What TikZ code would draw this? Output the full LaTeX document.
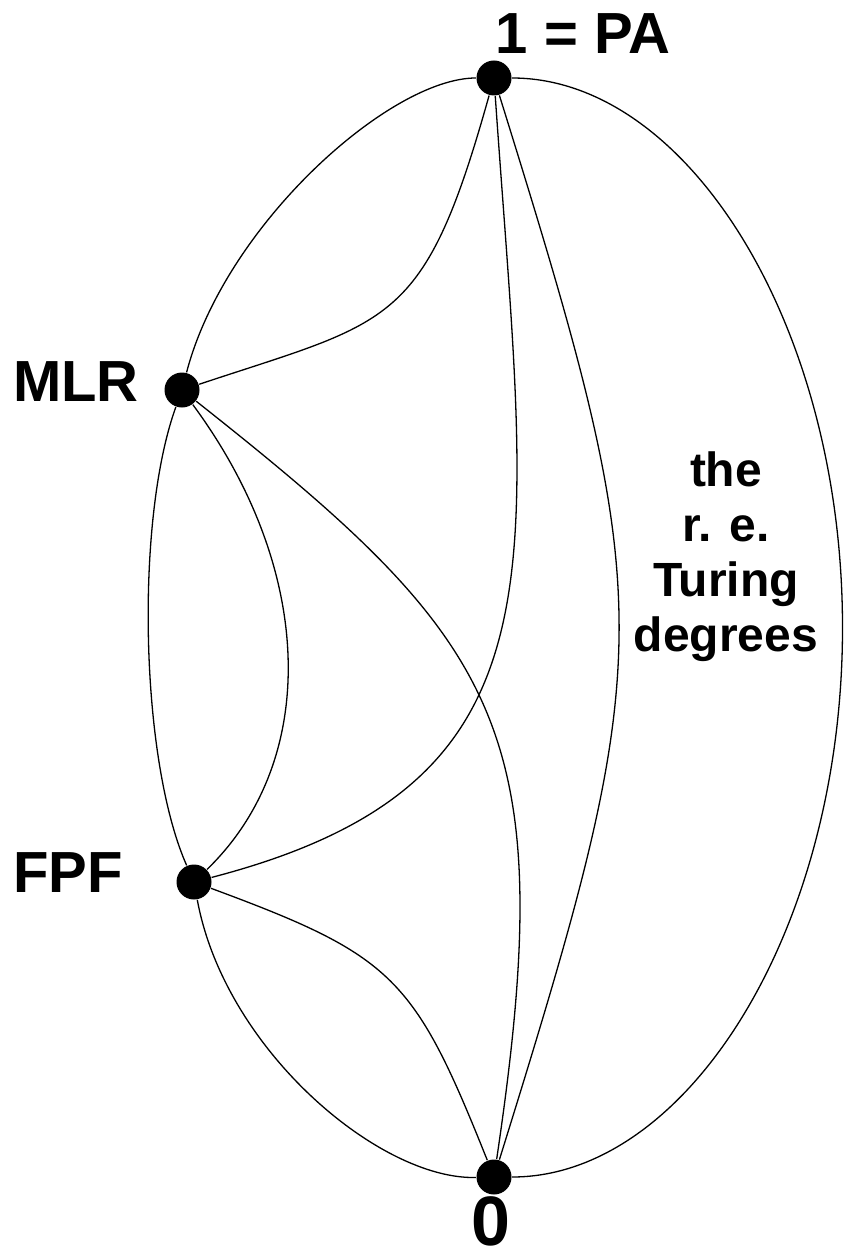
\documentclass[tikz,border=0pt]{standalone}
\usepackage{fontspec}
\setmainfont{Liberation Sans}
\usepackage{tikz}

\begin{document}
\begin{tikzpicture}[x=1pt, y=-1pt, line width=1.3pt,
  degree/.style={circle, fill=black, inner sep=0pt, minimum size=35pt},
  lbl/.style={font=\fontsize{58}{60}\selectfont\bfseries, inner sep=0pt}]
  \useasboundingbox (0,0) rectangle (844,1257);
  % Degrees
  \node[degree] (PA) at (494,78) {};
  \node[degree] (MLR) at (182,390) {};
  \node[degree] (FPF) at (194,882) {};
  \node[degree] (zero) at (494,1177) {};
  \coordinate (east) at (842.5,627.5);
  % Labels
  \node[lbl] (PAlbl) at (583,34) {1 = PA};
  \node[lbl] (MLRlbl) at (76,382) {MLR};
  \node[lbl] (FPFlbl) at (68,873) {FPF};
  \node[font=\fontsize{70}{80}\selectfont\bfseries, inner sep=0pt] (zerolbl) at (491,1221) {0};
  \node[font=\fontsize{48}{55}\selectfont\bfseries, align=center, anchor=north, inner sep=0pt]
    (relbl) at (726,451) {the\\r. e.\\Turing\\degrees};
  % Outer boundary
  \draw (PA) .. controls (390,78) and (225,225) .. (MLR);
  \draw (MLR) .. controls (135,520) and (140,760) .. (FPF);
  \draw (FPF) .. controls (225,1050) and (380,1180) .. (zero);
  \draw (PA) .. controls (686.7,78) and (east |- 0,324) .. (east)
    .. controls (east |- 0,931) and (686.7,1177) .. (zero);
  % Inner curves
  \draw (PA) .. controls (424,328) and (392,320) .. (MLR);
  \draw (MLR) .. controls (315,570) and (320,760) .. (FPF);
  \draw (MLR) .. controls (502,643) and (561,727) .. (zero);
  \draw (FPF) .. controls (574,783) and (528,570) .. (PA);
  \draw (FPF) .. controls (394,956) and (414,977) .. (zero);
  \draw (PA) .. controls (659,608) and (659,647) .. (zero);
\end{tikzpicture}
\end{document}
